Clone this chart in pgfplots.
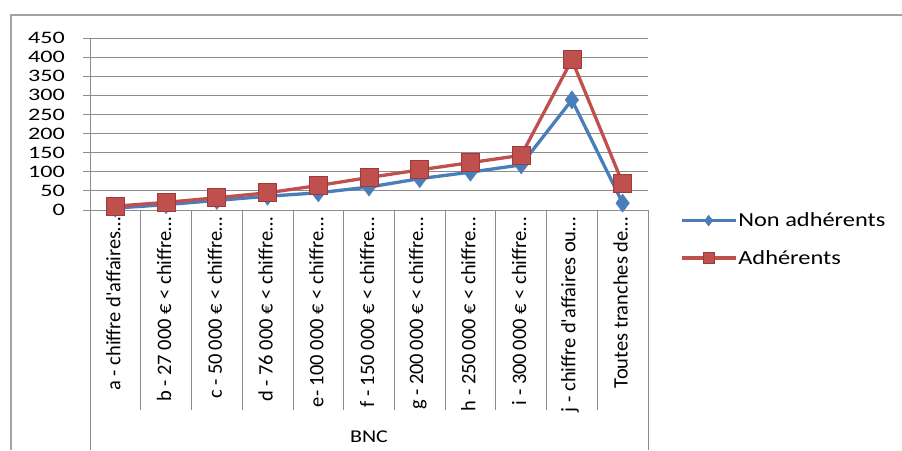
\documentclass[border=0pt]{standalone}
\usepackage{pgfplots}
\pgfplotsset{compat=1.18}
\usepackage{fontspec}
\setmainfont{Carlito}[FakeStretch=1.22]
\newfontfamily\labfont{Carlito}
\newfontfamily\tickfont{Carlito}[FakeStretch=1.38]
\definecolor{cblue}{HTML}{4A7EBB}
\definecolor{cred}{HTML}{C0504D}
\definecolor{credd}{HTML}{9E3A37}
\definecolor{cgrid}{HTML}{8C8C8C}
\begin{document}
\begin{tikzpicture}[x=1pt,y=1pt]
\path[use as bounding box] (0,0) rectangle (902,450);
\draw[cgrid!80, line width=1.5pt] (11,0) -- (11,435) -- (902,435);
\begin{axis}[
  at={(90pt,240pt)}, anchor=south west,
  scale only axis, width=558pt, height=172pt,
  xmin=-0.5, xmax=10.5, ymin=0, ymax=450,
  ytick={0,50,...,450},
  xtick={0,...,10},
  xticklabels={a - chiffre d'affaires…,
    b - 27 000 € < chiffre…,
    c - 50\,000 € < chiffre…,
    d - 76 000 € < chiffre…,
    e- 100 000 € < chiffre…,
    f - 150 000 € < chiffre…,
    g - 200\,000 € < chiffre…,
    h - 250\,000 € < chiffre…,
    i - 300\,000 € < chiffre…,
    j - chiffre d'affaires ou…,
    Toutes tranches de…},
  axis x line*=bottom, axis y line*=left,
  axis line style={cgrid, line width=0.8pt, -},
  ymajorgrids, grid style={cgrid, line width=0.8pt},
  tick align=outside, major tick length=7pt,
  ytick style={cgrid, line width=0.8pt},
  xtick style={draw=none},
  /pgf/number format/assume math mode=true,
  yticklabel style={font=\tickfont\fontsize{17.5}{20}\selectfont, inner sep=0pt, xshift=-18pt},
  xticklabel style={font=\labfont\fontsize{20.5}{22}\selectfont, rotate=90, anchor=east, inner sep=0pt, yshift=2pt},
  legend style={at={(1.057,-0.01)}, anchor=north west, draw=none, fill=none,
    font=\fontsize{20}{22}\selectfont, row sep=20pt, inner sep=0pt,
    nodes={inner sep=1pt}},
  legend cell align=left,
  legend image code/.code={
    \begin{scope}[/tikz/every mark/.append style={scale=0.6}]
    \draw[mark repeat=2,mark phase=2,#1] plot coordinates {(0pt,0pt) (27pt,0pt) (54pt,0pt)};
    \end{scope}
  },
  clip=false,
]
\addplot[color=cblue, line width=3.3pt, mark=diamond*, mark size=9pt,
  mark options={fill=cblue, draw=cblue, line width=0.5pt}]
  coordinates {(0,5) (1,14) (2,25) (3,36) (4,45) (5,60) (6,82) (7,99) (8,118) (9,288) (10,18)};
\addlegendentry{Non adhérents}
\addplot[color=cred, line width=3.3pt, mark=square*, mark size=9pt,
  mark options={fill=cred, draw=credd, line width=0.8pt}]
  coordinates {(0,10) (1,20) (2,32) (3,45) (4,64) (5,85) (6,105) (7,124) (8,143) (9,393) (10,70)};
\addlegendentry{Adhérents}
\end{axis}
\foreach \k in {1,...,10} {
  \draw[cgrid, line width=0.8pt] ({90+\k*50.727},240) -- ({90+\k*50.727},40);
}
\draw[cgrid, line width=0.8pt] (90,240) -- (90,0);
\draw[cgrid, line width=0.8pt] (648,240) -- (648,0);
\node[font=\fontsize{18}{20}\selectfont] at (369,13) {BNC};
\end{tikzpicture}
\end{document}
